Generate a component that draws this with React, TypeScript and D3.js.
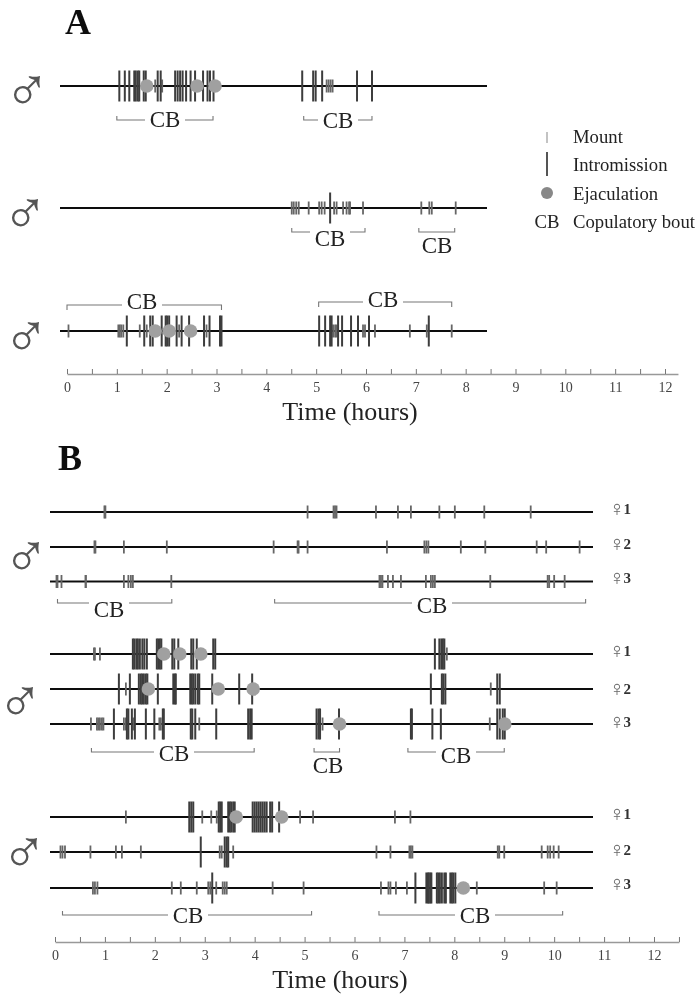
import React, { useRef, useEffect } from 'react';
import * as d3 from 'd3';

// All event times are in hours
// Panel A
const a1Mounts = [1.77, 1.91, 5.21, 5.25, 5.29, 5.33];
const a1Intromissions = [1.05, 1.16, 1.25, 1.35, 1.38, 1.42, 1.45, 1.54, 1.58, 1.82, 1.88, 2.17, 2.22, 2.27, 2.32, 2.39, 2.48, 2.57, 2.73, 2.82, 2.87, 2.94, 4.72, 4.94, 4.99, 5.12, 5.82, 6.12];
const a1Ejaculations = [1.6, 2.61, 2.97];
const a2Mounts = [4.51, 4.55, 4.6, 4.65, 4.85, 5.06, 5.11, 5.17, 5.36, 5.41, 5.54, 5.61, 5.66, 5.68, 5.94, 7.11, 7.27, 7.32, 7.8];
const a2Intromissions = [5.28];
const a2Ejaculations: number[] = [];
const a3Mounts = [0.03, 1.03, 1.06, 1.09, 1.13, 1.46, 1.6, 2.25, 2.8, 5.34, 5.38, 5.41, 5.94, 5.98, 6.18, 6.88, 7.22, 7.72];
const a3Intromissions = [1.2, 1.55, 1.67, 1.72, 1.9, 1.98, 2.01, 2.05, 2.2, 2.3, 2.45, 2.75, 2.86, 3.07, 3.1, 5.06, 5.18, 5.28, 5.31, 5.44, 5.52, 5.7, 5.84, 6.06, 7.26];
const a3Ejaculations = [1.77, 2.05, 2.48];

// Panel B
const b1Mounts = [0.99, 1.01, 5.06, 5.58, 5.61, 5.64, 6.43, 6.87, 7.13, 7.7, 8.01, 8.6, 9.53];
const b2Mounts = [0.79, 0.81, 1.38, 2.24, 4.38, 4.86, 4.88, 5.06, 6.65, 7.4, 7.44, 7.48, 8.13, 8.62, 9.65, 9.84, 10.51];
const b3Mounts = [0.03, 0.05, 0.13, 0.61, 0.62, 1.38, 1.47, 1.52, 1.56, 2.33, 6.5, 6.53, 6.56, 6.67, 6.77, 6.93, 7.43, 7.53, 7.57, 7.61, 8.72, 9.87, 9.9, 10.0, 10.21];
const b4Mounts = [0.78, 0.8, 0.9, 7.85];
const b4Intromissions = [1.56, 1.59, 1.63, 1.66, 1.7, 1.75, 1.79, 1.84, 2.04, 2.07, 2.1, 2.13, 2.35, 2.39, 2.47, 2.73, 2.77, 2.84, 3.17, 3.21, 7.61, 7.7, 7.74, 7.77, 7.8];
const b4Ejaculations = [2.18, 2.5, 2.92];
const b5Mounts = [1.42, 8.73];
const b5Intromissions = [1.28, 1.5, 1.68, 1.72, 1.75, 1.78, 1.82, 1.85, 2.06, 2.37, 2.4, 2.42, 2.71, 2.74, 2.77, 2.81, 2.86, 2.89, 3.15, 3.69, 3.95, 7.53, 7.75, 7.78, 7.82, 8.86, 8.91];
const b5Ejaculations = [1.87, 3.27, 3.97];
const b6Mounts = [0.72, 0.84, 0.87, 0.9, 0.94, 0.97, 1.38, 1.42, 1.57, 2.09, 2.12, 2.89, 5.36, 8.71];
const b6Intromissions = [1.18, 1.44, 1.47, 1.54, 1.6, 1.82, 1.99, 2.16, 2.18, 2.72, 2.75, 2.81, 3.23, 3.87, 3.91, 3.94, 5.24, 5.28, 5.31, 5.69, 7.13, 7.15, 7.56, 7.73, 8.86, 8.91, 8.97, 9.01];
const b6Ejaculations = [5.7, 9.01];
const b7Mounts = [1.42, 2.95, 3.13, 3.24, 4.91, 5.17, 6.81, 7.12];
const b7Intromissions = [2.69, 2.73, 2.77, 3.28, 3.31, 3.34, 3.47, 3.5, 3.53, 3.57, 3.6, 3.96, 4, 4.04, 4.08, 4.12, 4.16, 4.2, 4.24, 4.31, 4.35, 4.49];
const b7Ejaculations = [3.63, 4.54];
const b8Mounts = [0.11, 0.15, 0.2, 0.71, 1.22, 1.34, 1.72, 3.3, 3.34, 3.57, 6.44, 6.72, 7.1, 7.13, 7.16, 8.87, 8.9, 9.0, 9.75, 9.87, 9.92, 9.99, 10.09];
const b8Intromissions = [2.92, 3.4, 3.44, 3.47];
const b9Mounts = [0.76, 0.8, 0.85, 2.34, 2.52, 2.84, 3.07, 3.11, 3.23, 3.36, 3.4, 3.44, 4.36, 4.98, 6.53, 6.68, 6.72, 6.83, 7.05, 8.45, 9.8, 10.05];
const b9Intromissions = [3.15, 7.22, 7.44, 7.47, 7.49, 7.52, 7.54, 7.65, 7.68, 7.71, 7.75, 7.8, 7.83, 7.92, 7.95, 7.98, 8.02];
const b9Ejaculations = [8.18];

const none: number[] = [];
const legendLabels = ['Mount', 'Intromission', 'Ejaculation', 'Copulatory bout'];
const femaleLabels = ['1', '2', '3'];
const halfHours = d3.range(0, 12.5, 0.5);

const App = () => {
    const svgRef = useRef(null);

    useEffect(() => {
        const svg = d3.select(svgRef.current);
        svg.selectAll('*').remove();

        const serif = '"Liberation Serif", serif';
        const xA = d3.scaleLinear().domain([0, 12]).range([67, 665]);
        const xB = d3.scaleLinear().domain([0, 12]).range([55, 654]);

        svg.append('defs').append('filter').attr('id', 'soft')
            .append('feGaussianBlur').attr('stdDeviation', 0.5);
        const root = svg.append('g').attr('filter', 'url(#soft)');

        const drawRow = (x, y, xStart, xEnd, mounts, intromissions, ejaculations) => {
            const g = root.append('g');
            g.append('line').attr('x1', xStart).attr('x2', xEnd).attr('y1', y).attr('y2', y)
                .attr('stroke', '#111').attr('stroke-width', 2);
            g.selectAll('.mount').data(mounts).enter().append('line')
                .attr('x1', d => x(d)).attr('x2', d => x(d))
                .attr('y1', y - 6.5).attr('y2', y + 6.5)
                .attr('stroke', '#666').attr('stroke-width', 1.8);
            g.selectAll('.intro').data(intromissions).enter().append('line')
                .attr('x1', d => x(d)).attr('x2', d => x(d))
                .attr('y1', y - 15.5).attr('y2', y + 15.5)
                .attr('stroke', '#3c3c3c').attr('stroke-width', 2);
            g.selectAll('.ejac').data(ejaculations).enter().append('circle')
                .attr('cx', d => x(d)).attr('cy', y).attr('r', 6.8)
                .attr('fill', '#a0a0a0');
        };

        const drawBout = (x, start, end, y, dir, labelX, labelY) => {
            const tick = dir === 'up' ? -4 : 5;
            const line = d3.line();
            const xs = x(start), xe = x(end);
            // label sits in a gap of the bracket unless it hangs fully below it
            const segs = labelY - y < 20
                ? [[[xs, y + tick], [xs, y], [labelX - 20, y]], [[labelX + 20, y], [xe, y], [xe, y + tick]]]
                : [[[xs, y + tick], [xs, y], [xe, y], [xe, y + tick]]];
            segs.forEach(s => root.append('path').attr('d', line(s))
                .attr('fill', 'none').attr('stroke', '#777').attr('stroke-width', 1.1));
            root.append('text').attr('x', labelX).attr('y', labelY).attr('text-anchor', 'middle')
                .attr('font-family', serif).attr('font-size', 23).attr('fill', '#222').text('CB');
        };

        const drawAxis = (x, y, end) => {
            const axisScale = x.copy().domain([0, end]).range([x(0), x(end)]);
            const values = end > 12.4 ? d3.range(0, 13, 0.5) : halfHours;
            const axis = d3.axisBottom(axisScale)
                .tickValues(values)
                .tickSizeInner(-5)
                .tickSizeOuter(0)
                .tickPadding(8)
                .tickFormat(d => (Number.isInteger(d) && d <= 12 ? String(d) : ''));
            const g = root.append('g').attr('transform', `translate(0,${y})`).call(axis);
            g.select('.domain').attr('stroke', '#999').attr('stroke-width', 1.5);
            g.selectAll('.tick line').attr('stroke', '#777').attr('stroke-width', 1);
            g.selectAll('.tick text').attr('font-family', serif).attr('font-size', 14).attr('fill', '#444');
        };

        const drawMale = (x, y) => {
            root.append('text').attr('x', x).attr('y', y).attr('text-anchor', 'middle')
                .attr('font-family', serif)
                .attr('font-size', 62).attr('fill', '#555').text('♂');
        };

        const drawFemale = (y, label) => {
            root.append('text').attr('x', 617).attr('y', y + 2).attr('text-anchor', 'middle')
                .attr('font-family', serif).attr('font-size', 22).attr('fill', '#666').text('♀');
            root.append('text').attr('x', 623.5).attr('y', y)
                .attr('font-family', serif).attr('font-size', 15).attr('font-weight', 'bold')
                .attr('fill', '#333').text(label);
        };

        const title = (text, x, y) => root.append('text').attr('x', x).attr('y', y)
            .attr('font-family', serif).attr('font-weight', 'bold').attr('font-size', 36).attr('fill', '#111').text(text);

        const xLabel = (x, y) => root.append('text').attr('x', x).attr('y', y).attr('text-anchor', 'middle')
            .attr('font-family', serif).attr('font-size', 26).attr('fill', '#222').text('Time (hours)');

        // Panel A
        title('A', 65, 34);
        drawRow(xA, 86, 60, 487, a1Mounts, a1Intromissions, a1Ejaculations);
        drawRow(xA, 208, 60, 487, a2Mounts, a2Intromissions, a2Ejaculations);
        drawRow(xA, 331, 60, 487, a3Mounts, a3Intromissions, a3Ejaculations);
        drawBout(xA, 1.0, 2.93, 120, 'up', 165, 127);
        drawBout(xA, 4.75, 6.12, 120, 'up', 338, 128);
        drawBout(xA, 4.51, 5.98, 232, 'up', 330, 246);
        drawBout(xA, 7.06, 7.78, 232, 'up', 437, 253);
        drawBout(xA, 0, 3.1, 305, 'down', 142, 309);
        drawBout(xA, 5.05, 7.72, 302, 'down', 383, 307);
        drawAxis(xA, 374, 12.26);
        xLabel(350, 420);
        drawMale(27, 111);
        drawMale(25, 234);
        drawMale(26, 357);

        // Legend
        const legendY = d3.scalePoint().domain(legendLabels).range([143, 228]);
        root.append('line').attr('x1', 547).attr('x2', 547).attr('y1', 132).attr('y2', 143)
            .attr('stroke', '#aaa').attr('stroke-width', 1.4);
        root.append('line').attr('x1', 547).attr('x2', 547).attr('y1', 152).attr('y2', 176)
            .attr('stroke', '#555').attr('stroke-width', 2);
        root.append('circle').attr('cx', 547).attr('cy', 193).attr('r', 6).attr('fill', '#888');
        root.append('text').attr('x', 547).attr('y', 228).attr('text-anchor', 'middle')
            .attr('font-family', serif).attr('font-size', 18.7).attr('fill', '#222').text('CB');
        root.selectAll('.legend').data(legendLabels).enter().append('text')
            .attr('x', 573).attr('y', d => legendY(d))
            .attr('font-family', serif).attr('font-size', 18.7).attr('fill', '#222').text(d => d);

        // Panel B
        title('B', 58, 470);
        const xEndB = 593;
        drawRow(xB, 512, 50, xEndB, b1Mounts, none, none);
        drawRow(xB, 547, 50, xEndB, b2Mounts, none, none);
        drawRow(xB, 581.5, 50, xEndB, b3Mounts, none, none);
        drawRow(xB, 654, 50, xEndB, b4Mounts, b4Intromissions, b4Ejaculations);
        drawRow(xB, 689, 50, xEndB, b5Mounts, b5Intromissions, b5Ejaculations);
        drawRow(xB, 724, 50, xEndB, b6Mounts, b6Intromissions, b6Ejaculations);
        drawRow(xB, 817, 50, xEndB, b7Mounts, b7Intromissions, b7Ejaculations);
        drawRow(xB, 852, 50, xEndB, b8Mounts, b8Intromissions, none);
        drawRow(xB, 888, 50, xEndB, b9Mounts, b9Intromissions, b9Ejaculations);

        drawBout(xB, 0.05, 2.34, 603, 'up', 109, 617);
        drawBout(xB, 4.4, 10.63, 603, 'up', 432, 613);
        drawBout(xB, 0.73, 3.99, 752, 'up', 174, 761);
        drawBout(xB, 5.19, 5.7, 752, 'up', 328, 773);
        drawBout(xB, 7.07, 9.0, 752, 'up', 456, 763);
        drawBout(xB, 0.15, 5.14, 915, 'up', 188, 923);
        drawBout(xB, 6.49, 10.17, 915, 'up', 475, 923);

        drawAxis(xB, 942, 12.5);
        xLabel(340, 988);

        drawMale(26, 577);
        drawMale(20, 722);
        drawMale(24, 873);

        [[514, 549, 583], [656, 694, 727], [819, 855, 889]].forEach(group =>
            group.forEach((y, i) => drawFemale(y, femaleLabels[i])));
    }, []);

    return <svg ref={svgRef} width={697} height={994} style={{ position: 'absolute', left: 0, top: 0, background: '#fff' }}></svg>;
};

export default App;
